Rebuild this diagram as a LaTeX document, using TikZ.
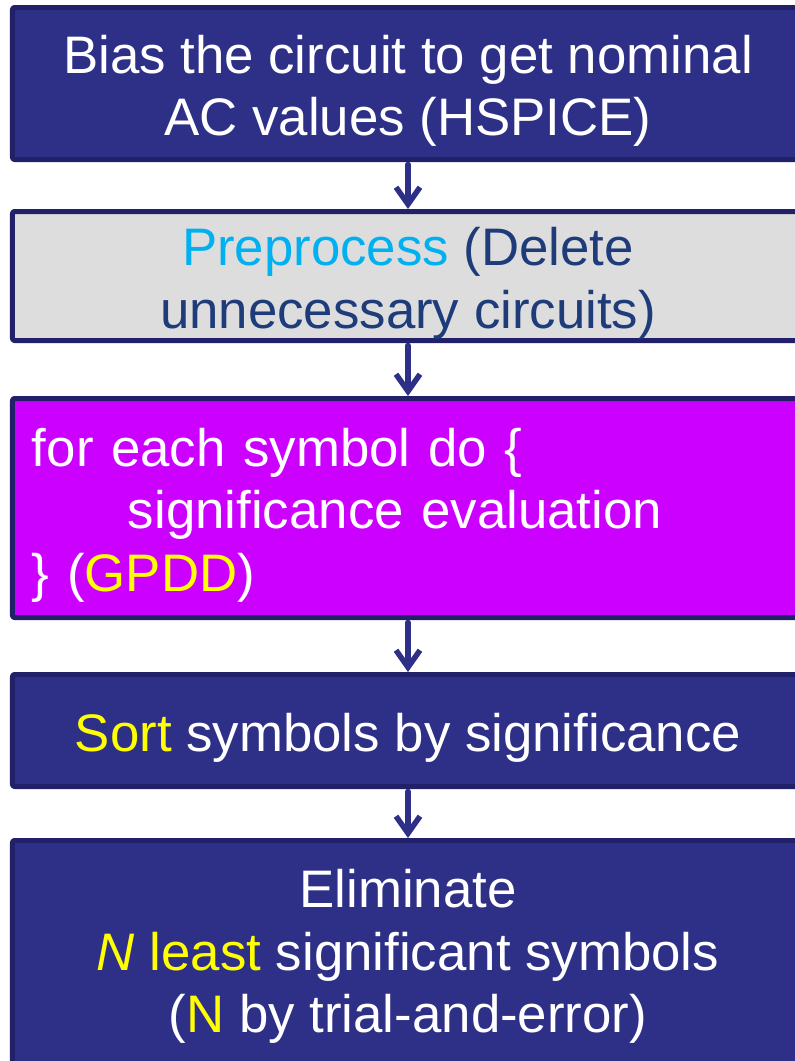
\documentclass[tikz,border=0pt]{standalone}
\usepackage{fontspec}
\setmainfont{Liberation Sans}
\usetikzlibrary{arrows.meta}
\definecolor{navy}{HTML}{2E3087}
\definecolor{navyline}{HTML}{21216A}
\definecolor{boxgray}{HTML}{DDDDDD}
\definecolor{purp}{HTML}{CC00FF}
\definecolor{skyblue}{HTML}{00B0F0}
\definecolor{darkblue}{HTML}{1F3C7A}
\definecolor{yel}{HTML}{FFFF00}
\begin{document}
\begin{tikzpicture}[x=1bp, y=-1bp, line join=round, line cap=round,
    font=\fontsize{53}{63}\selectfont,
    box/.style={draw=navyline, line width=5bp, rounded corners=2bp,
      minimum width=791bp, inner sep=0pt, text depth=0pt, align=center},
    flow/.style={-{Straight Barb[length=17bp,width=24bp]}, draw=navy,
      line width=5.5bp, shorten <=2.5bp}]
  \useasboundingbox (0,0) rectangle (795,1061);
  \clip (0,0) rectangle (795,1061);
  % the five steps, top to bottom
  \node[box, fill=navy, text=white, minimum height=152bp] (bias) at (408,83.5)
    {\rule{0pt}{42bp}Bias the circuit to get nominal\\AC values (HSPICE)};
  \node[box, fill=boxgray, text=darkblue, minimum height=129bp] (prep) at (408,276)
    {\rule{0pt}{42bp}\textcolor{skyblue}{Preprocess} (Delete\\unnecessary circuits)};
  \node[box, fill=purp, text=white, minimum height=219bp, align=left,
    text width=752bp, text depth=126bp] (loop) at (408,508)
    {\rule{0pt}{42bp}for each symbol do \{\\\hspace*{96bp}significance evaluation\\\} (\textcolor{yel}{GPDD})};
  \node[box, fill=navy, text=white, minimum height=112bp] (sort) at (408,730.5)
    {\rule{0pt}{42bp}\textcolor{yel}{Sort} symbols by significance};
  \node[box, fill=navy, text=white, minimum height=240bp, text depth=23bp] (elim) at (408,960.5)
    {\rule{0pt}{42bp}Eliminate\\\textcolor{yel}{\textit{N} least} significant symbols\\(\textcolor{yel}{N} by trial-and-error)};
  % arrows between them
  \draw[flow] (bias.south) -- (prep.north);
  \draw[flow] (prep.south) -- (loop.north);
  \draw[flow] (loop.south) -- (sort.north);
  \draw[flow] (sort.south) -- (elim.north);
\end{tikzpicture}
\end{document}
